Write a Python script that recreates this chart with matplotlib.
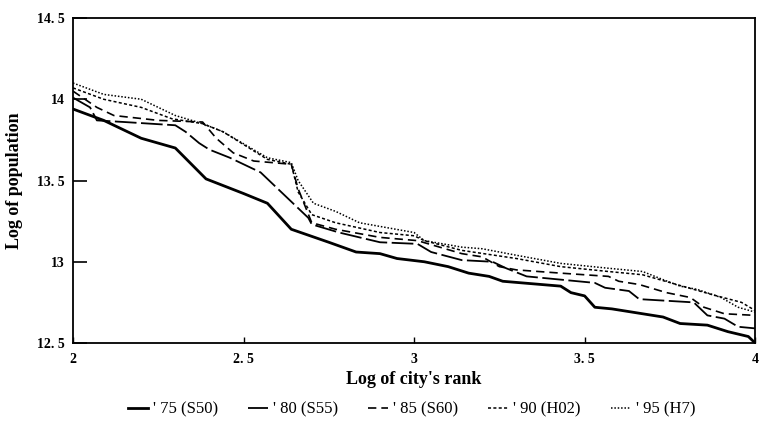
import matplotlib
matplotlib.use('Agg')
import matplotlib.pyplot as plt

# ============================================================
# Data
# ============================================================
x75 = [2.0, 2.09, 2.2, 2.3, 2.39, 2.5, 2.57, 2.64, 2.75, 2.83, 2.9, 2.95, 3.03, 3.1,
       3.16, 3.22, 3.26, 3.43, 3.46, 3.5, 3.53, 3.58, 3.73, 3.78, 3.86, 3.92, 3.98, 4.0]
y75 = [13.94, 13.87, 13.76, 13.70, 13.51, 13.42, 13.36, 13.20, 13.12, 13.06, 13.05, 13.02, 13.00, 12.97,
       12.93, 12.91, 12.88, 12.85, 12.81, 12.79, 12.72, 12.71, 12.66, 12.62, 12.61, 12.57, 12.54, 12.50]

x80 = [2.0, 2.05, 2.07, 2.15, 2.3, 2.33, 2.37, 2.4, 2.46, 2.55, 2.61, 2.645, 2.69, 2.70,
       2.78, 2.9, 3.01, 3.05, 3.14, 3.23, 3.27, 3.33, 3.43, 3.53, 3.56, 3.63, 3.66,
       3.82, 3.86, 3.91, 3.95, 4.0]
y80 = [14.01, 13.95, 13.87, 13.86, 13.84, 13.80, 13.73, 13.69, 13.64, 13.55, 13.43, 13.36, 13.27, 13.23,
       13.18, 13.12, 13.11, 13.06, 13.01, 13.00, 12.96, 12.91, 12.89, 12.87, 12.84, 12.82, 12.77,
       12.75, 12.67, 12.65, 12.60, 12.59]

x85 = [2.0, 2.07, 2.12, 2.25, 2.38, 2.42, 2.47, 2.53, 2.64, 2.66, 2.70, 2.77, 2.9, 3.01,
       3.14, 3.2, 3.25, 3.3, 3.43, 3.57, 3.6, 3.66, 3.74, 3.81, 3.85, 3.91, 4.0]
y85 = [14.05, 13.95, 13.90, 13.87, 13.86, 13.76, 13.67, 13.62, 13.60, 13.45, 13.24, 13.20, 13.15, 13.13,
       13.05, 13.03, 12.97, 12.95, 12.93, 12.91, 12.88, 12.86, 12.81, 12.78, 12.72, 12.68, 12.67]

x90 = [2.0, 2.09, 2.2, 2.29, 2.38, 2.44, 2.57, 2.64, 2.66, 2.70, 2.77, 2.9, 3.0, 3.03,
       3.14, 3.3, 3.43, 3.57, 3.67, 3.77, 3.87, 3.96, 4.0]
y90 = [14.07, 14.00, 13.95, 13.88, 13.85, 13.80, 13.63, 13.60, 13.43, 13.29, 13.24, 13.18, 13.16, 13.13,
       13.07, 13.02, 12.97, 12.94, 12.92, 12.86, 12.80, 12.75, 12.70]

x95 = [2.0, 2.09, 2.2, 2.3, 2.38, 2.44, 2.57, 2.64, 2.66, 2.705, 2.77, 2.84, 2.92, 3.0,
       3.03, 3.14, 3.2, 3.3, 3.43, 3.57, 3.67, 3.73, 3.78, 3.83, 3.9, 3.95, 4.0]
y95 = [14.10, 14.03, 14.00, 13.90, 13.85, 13.80, 13.64, 13.61, 13.50, 13.36, 13.31, 13.24, 13.21, 13.18,
       13.13, 13.09, 13.08, 13.04, 12.99, 12.96, 12.94, 12.89, 12.85, 12.83, 12.78, 12.72, 12.69]

labels = ["' 75 (S50)", "' 80 (S55)", "' 85 (S60)", "' 90 (H02)", "' 95 (H7)"]

xticks = [2, 2.5, 3, 3.5, 4]
xtick_labels = ['2', '2. 5', '3', '3. 5', '4']
yticks = [12.5, 13, 13.5, 14, 14.5]
ytick_labels = ['12. 5', '13', '13. 5', '14', '14. 5']

# ============================================================
# Plot
# ============================================================
plt.rcParams['font.family'] = ['Liberation Serif', 'DejaVu Serif']

fig = plt.figure(figsize=(7.62, 4.30), dpi=100)
ax = fig.add_axes([0.0958, 0.2023, 0.8952, 0.7558])

series = [
    (x75, y75, {'linestyle': '-', 'linewidth': 2.0}),
    (x80, y80, {'linestyle': (0, (12, 2.5)), 'linewidth': 1.3}),
    (x85, y85, {'linestyle': (0, (5, 3)), 'linewidth': 1.2}),
    (x90, y90, {'linestyle': (0, (2, 1.5)), 'linewidth': 1.1}),
    (x95, y95, {'linestyle': (0, (1, 1.2)), 'linewidth': 1.1}),
]
for (xs, ys, st), lab in zip(series, labels):
    ax.plot(xs, ys, color='black', label=lab, **st)

ax.set_xlim(2, 4)
ax.set_ylim(12.5, 14.5)
ax.set_xticks(xticks)
ax.set_xticklabels(xtick_labels, fontsize=10, fontweight='bold')
ax.set_yticks(yticks)
ax.set_yticklabels(ytick_labels, fontsize=10, fontweight='bold')
ax.tick_params(axis='y', direction='in', length=10, width=1.2, pad=6)
ax.tick_params(axis='x', direction='in', length=4, width=1.0, pad=7)
for sp in ax.spines.values():
    sp.set_linewidth(1.3)

ax.set_xlabel("Log of city's rank", fontsize=13, fontweight='bold', labelpad=4)
ax.set_ylabel('Log of population', fontsize=13, fontweight='bold', labelpad=10)

fig.legend(loc='center', bbox_to_anchor=(0.54, 0.048), ncol=5, frameon=False,
           handlelength=1.2, handletextpad=0.3, columnspacing=1.8,
           prop={'size': 12})

fig.savefig('out.png', dpi=100)
plt.close(fig)
print('Saved: out.png')
